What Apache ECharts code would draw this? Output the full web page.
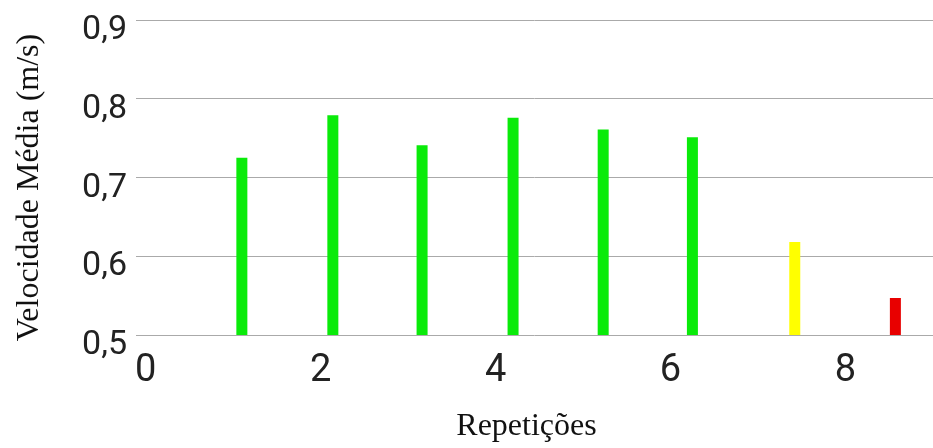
<!DOCTYPE html>
<html>
<head>
<meta charset="utf-8">
<script src="https://cdn.jsdelivr.net/npm/echarts@6/dist/echarts.min.js"></script>
<style>
html,body{margin:0;padding:0;background:#fff;}
#chart{width:933px;height:448px;}
</style>
</head>
<body>
<div id="chart"></div>
<script>
// Data
var repeticoes = [1.1, 2.14, 3.16, 4.2, 5.23, 6.25, 7.42, 8.57];
var velocidade = [0.725, 0.779, 0.741, 0.776, 0.761, 0.751, 0.618, 0.547];
var xTickValues = [0, 2, 4, 6, 8];
var yTicks = [0.5, 0.6, 0.7, 0.8, 0.9];

var chart = echarts.init(document.getElementById('chart'));
var points = repeticoes.map(function (x, i) { return [x, velocidade[i]]; });

chart.setOption({
  animation: false,
  backgroundColor: '#ffffff',
  grid: { left: 136, right: 0, top: 20, bottom: 111 },
  xAxis: {
    type: 'value',
    min: -0.11,
    max: 9,
    name: 'Repetições',
    nameLocation: 'middle',
    nameGap: 76,
    nameTextStyle: { fontFamily: 'Liberation Serif', fontSize: 32, color: '#111', padding: [0, 16, 0, 0] },
    axisLine: { show: false },
    axisTick: { show: false },
    splitLine: { show: false },
    axisLabel: {
      customValues: xTickValues,
      fontFamily: 'Roboto',
      fontSize: 38,
      color: '#222',
      margin: 17
    }
  },
  yAxis: {
    type: 'value',
    min: yTicks[0],
    max: yTicks[yTicks.length - 1],
    interval: 0.1,
    name: 'Velocidade Média (m/s)',
    nameLocation: 'middle',
    nameRotate: 90,
    nameGap: 90,
    nameTextStyle: { fontFamily: 'Liberation Serif', fontSize: 32, color: '#111', padding: [0, 20, 0, 0] },
    axisLine: { show: false },
    axisTick: { show: false },
    splitLine: { show: true, lineStyle: { color: '#aaaaaa', width: 1 } },
    axisLabel: {
      fontFamily: 'Roboto',
      fontSize: 34,
      color: '#222',
      margin: 9,
      verticalAlign: 'top',
      lineHeight: 21,
      formatter: function (v) { return v.toFixed(1).replace('.', ','); }
    }
  },
  series: [{
    type: 'bar',
    data: points,
    barWidth: 11,
    itemStyle: {
      color: function (p) {
        var v = p.value[1];
        return v >= 0.7 ? '#0aeb0a' : (v >= 0.6 ? '#ffff00' : '#e80000');
      }
    }
  }]
});
</script>
</body>
</html>
